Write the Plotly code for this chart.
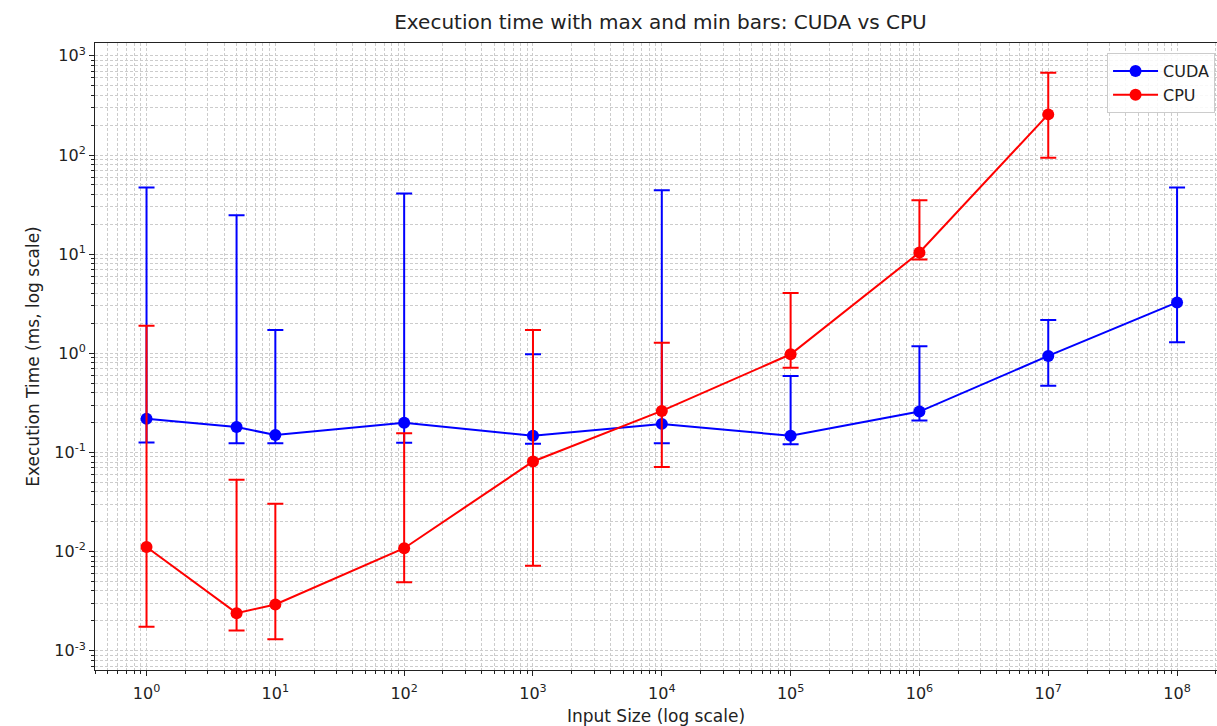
import plotly.graph_objects as go

# Input sizes (number of elements)
sizes_cuda = [1, 5, 10, 100, 1000, 10000, 100000, 1000000, 10000000, 100000000]
sizes_cpu = [1, 5, 10, 100, 1000, 10000, 100000, 1000000, 10000000]

# CUDA timings (ms): mean, max, min
cuda_mean = [0.218, 0.180, 0.150, 0.199, 0.147, 0.194, 0.147, 0.258, 0.94, 3.26]
cuda_max = [47.0, 24.7, 1.72, 41.0, 0.977, 44.0, 0.59, 1.18, 2.16, 47.0]
cuda_min = [0.126, 0.124, 0.124, 0.125, 0.122, 0.124, 0.121, 0.21, 0.47, 1.29]

# CPU timings (ms): mean, max, min
cpu_mean = [0.0111, 0.00239, 0.00292, 0.0108, 0.081, 0.262, 0.977, 10.4, 257.0]
cpu_max = [1.9, 0.053, 0.0303, 0.156, 1.72, 1.28, 4.05, 35.0, 676.0]
cpu_min = [0.00174, 0.0016, 0.0013, 0.0049, 0.0072, 0.0711, 0.716, 8.85, 94.0]

x_tick_vals = [10 ** k for k in range(0, 9)]
x_tick_text = [f"10<sup>{k}</sup>" for k in range(0, 9)]
y_tick_vals = [10 ** k for k in range(-3, 4)]
y_tick_text = [f"10<sup>{k}</sup>" for k in range(-3, 4)]

FONT = "DejaVu Sans"
INK = "#222"


def add_series(fig, xs, mean, mx, mn, color, name):
    fig.add_trace(go.Scatter(
        x=xs, y=mean, name=name, mode="lines+markers",
        line=dict(color=color, width=2),
        marker=dict(color=color, size=12, symbol="circle"),
        error_y=dict(
            type="data", symmetric=False,
            array=[a - m for a, m in zip(mx, mean)],
            arrayminus=[m - b for m, b in zip(mean, mn)],
            color=color, thickness=2, width=8,
        ),
    ))


fig = go.Figure()
add_series(fig, sizes_cuda, cuda_mean, cuda_max, cuda_min, "#0000ff", "CUDA")
add_series(fig, sizes_cpu, cpu_mean, cpu_max, cpu_min, "#ff0000", "CPU")

grid_color = "#cccccc"
grid_dash = "3px,2px"
axis_common = dict(
    type="log",
    showline=True, mirror=True, linecolor=INK, linewidth=1,
    ticks="outside", ticklen=5, tickwidth=1, tickcolor=INK,
    showgrid=True, gridcolor=grid_color, griddash=grid_dash, gridwidth=1,
    zeroline=False,
    tickfont=dict(family=FONT, size=16, color=INK),
    minor=dict(ticks="outside", ticklen=3, tickwidth=1, tickcolor=INK,
               dtick="D1", showgrid=True, gridcolor=grid_color,
               griddash=grid_dash, gridwidth=1),
)

fig.update_xaxes(
    **axis_common,
    range=[-0.4, 8.31],
    tickvals=x_tick_vals, ticktext=x_tick_text,
    ticklabelstandoff=4,
    title=dict(text="Input Size (log scale)",
               font=dict(family=FONT, size=17, color=INK),
               standoff=8),
)
fig.update_yaxes(
    **axis_common,
    range=[-3.195, 3.13],
    tickvals=y_tick_vals, ticktext=y_tick_text,
    title=dict(text="Execution Time (ms, log scale)",
               font=dict(family=FONT, size=17, color=INK),
               standoff=10),
)

fig.update_layout(
    width=1217, height=726,
    margin=dict(l=95, r=0, t=43, b=56),
    plot_bgcolor="white", paper_bgcolor="white",
    font=dict(family=FONT, color=INK),
    title=dict(text="Execution time with max and min bars: CUDA vs CPU",
               x=0.504, xref="paper", xanchor="center",
               y=0.97, yref="container", yanchor="middle",
               font=dict(family=FONT, size=20, color=INK)),
    legend=dict(x=0.902, y=0.984, xanchor="left", yanchor="top",
                bgcolor="rgba(255,255,255,0.85)", bordercolor="#cccccc",
                borderwidth=1, itemwidth=45,
                font=dict(family=FONT, size=16, color=INK)),
    showlegend=True,
)

fig.write_html("out.html")
